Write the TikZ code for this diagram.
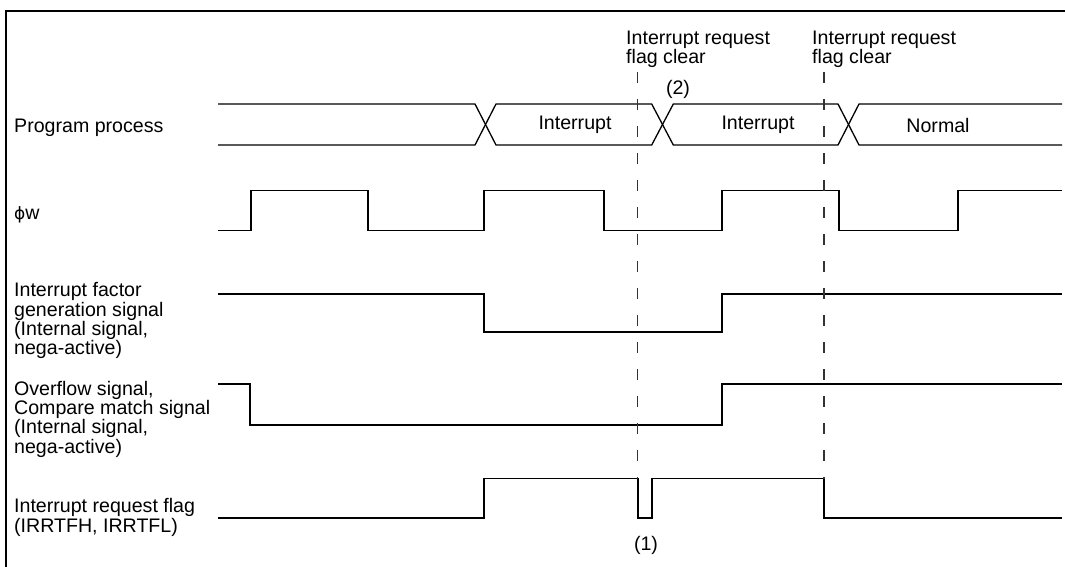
\documentclass[tikz,border=0pt]{standalone}
\usepackage{fontspec}
\setmainfont{Liberation Sans}
\newfontfamily\symfont{DejaVu Sans}
\begin{document}
\begin{tikzpicture}[x=1pt,y=-1pt,
  sig/.style={line width=1.3pt},
  frameline/.style={line width=2.3pt},
  guide/.style={line width=1.4pt, dash pattern=on 11pt off 16pt, draw=black!80},
  lbl/.style={anchor=base west, align=left, inner sep=0pt, font=\fontsize{19.6}{18}\selectfont},
  tlbl/.style={anchor=base west, align=left, inner sep=0pt, font=\fontsize{19.6}{17}\selectfont},
  ctext/.style={anchor=center, inner sep=0pt, font=\fontsize{19.6}{18}\selectfont}]
\useasboundingbox (0,0) rectangle (1065,567);
% frame
\draw[frameline] (6.2,580) -- (6.2,10.8) -- (1080,10.8);
% labels (base anchor = baseline of last line)
\node[lbl] (lpp) at (14,132.3) {Program process};
\node[lbl] (lphi) at (14,219.5) {{\symfont\fontsize{17}{17}\selectfont ϕ}w};
\node[lbl] (lifg) at (14,354.7) {Interrupt factor\\generation signal\\(Internal signal,\\nega-active)};
\node[lbl] (lovf) at (14,453) {Overflow signal,\\Compare match signal\\(Internal signal,\\nega-active)};
\node[lbl] (lflag) at (14,532) {Interrupt request flag\\(IRRTFH, IRRTFL)};
\node[tlbl] (lclr1) at (626,63.3) {Interrupt request\\flag clear};
\node[tlbl] (lclr2) at (812,63.3) {Interrupt request\\flag clear};
\node[ctext] (n2) at (678,89) {(2)};
\node[ctext] (n1) at (646,545) {(1)};
% program process
\draw[sig] (218,104) -- (475,104) -- (496,145) -- (651.7,145) -- (673.3,104) -- (838,104) -- (859,145) -- (1062,145);
\draw[sig] (218,145) -- (475,145) -- (496,104) -- (651.7,104) -- (673.3,145) -- (838,145) -- (859,104) -- (1062,104);
\node[ctext] (pint1) at (575,125) {Interrupt};
\node[ctext] (pint2) at (758,125) {Interrupt};
\node[ctext] (pnorm) at (938,125) {Normal};
% phi w
\draw[sig] (218,230.5) -- (251,230.5) -- (251,190.5) -- (368,190.5) -- (368,230.5) -- (484,230.5) -- (484,190.5) -- (604,190.5) -- (604,230.5) -- (722,230.5) -- (722,190.5) -- (839,190.5) -- (839,230.5) -- (958,230.5) -- (958,190.5) -- (1062,190.5);
% interrupt factor generation
\draw[sig] (218,294) -- (484,294) -- (484,332) -- (722,332) -- (722,294) -- (1062,294);
% overflow
\draw[sig] (218,384) -- (250,384) -- (250,425) -- (722,425) -- (722,384) -- (1062,384);
% interrupt request flag
\draw[sig] (218,518) -- (484,518) -- (484,478.5) -- (638,478.5) -- (638,518) -- (652,518) -- (652,478.5) -- (824,478.5) -- (824,518) -- (1062,518);
% guides
\coordinate (g1t) at (637.7,72);
\coordinate (g1b) at (637.7,478.5);
\coordinate (g2t) at (824,72);
\coordinate (g2b) at (824,478.5);
\draw[guide] (g1t) -- (g1b);
\draw[guide] (g2t) -- (g2b);
\end{tikzpicture}
\end{document}
